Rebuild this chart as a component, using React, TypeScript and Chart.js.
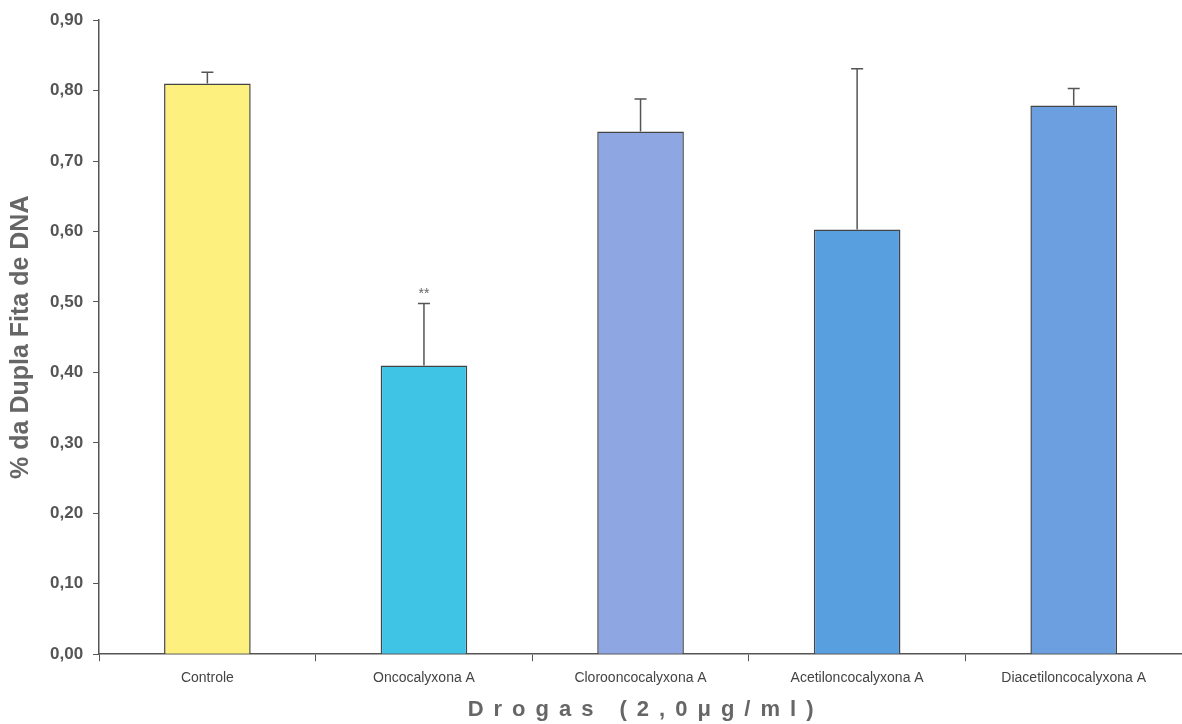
import React, { useEffect, useRef } from "react";
import { Chart, registerables } from "chart.js";

Chart.register(...registerables);

const categories = [
  "Controle",
  "Oncocalyxona A",
  "Clorooncocalyxona A",
  "Acetiloncocalyxona A",
  "Diacetiloncocalyxona A",
];
const means = [0.81, 0.41, 0.742, 0.603, 0.779];
const errors = [0.016, 0.088, 0.046, 0.228, 0.024];
const markers = ["", "**", "", "", ""];
const barColors = ["#FDF07E", "#3FC4E6", "#8EA7E2", "#589FDF", "#6C9FE0"];
const yTicks = [0, 0.1, 0.2, 0.3, 0.4, 0.5, 0.6, 0.7, 0.8, 0.9];
const xTitle = "Drogas (2,0μg/ml)";
const yTitle = "% da Dupla Fita de DNA";

const FONT = "'Liberation Sans', Arial, sans-serif";

const errorBarPlugin = {
  id: "errorBars",
  afterDatasetsDraw(chart: any) {
    const { ctx } = chart;
    const meta = chart.getDatasetMeta(0);
    const y = chart.scales.y;
    ctx.save();
    meta.data.forEach((bar: any, i: number) => {
      const x = bar.x;
      const top = y.getPixelForValue(means[i] + errors[i]);
      const base = y.getPixelForValue(means[i]);
      ctx.strokeStyle = "#555555";
      ctx.lineWidth = 1.5;
      ctx.beginPath();
      ctx.moveTo(x, base);
      ctx.lineTo(x, top);
      ctx.moveTo(x - 6, top);
      ctx.lineTo(x + 6, top);
      ctx.stroke();
      if (markers[i]) {
        ctx.fillStyle = "#666666";
        ctx.font = `14px ${FONT}`;
        ctx.textAlign = "center";
        ctx.textBaseline = "bottom";
        ctx.fillText(markers[i], x, top - 2);
      }
    });
    ctx.restore();
  },
};

const xTitlePlugin = {
  id: "xTitle",
  afterDraw(chart: any) {
    const { ctx, chartArea } = chart;
    const spacing = 10;
    ctx.save();
    ctx.font = `bold 22px ${FONT}`;
    ctx.fillStyle = "#666666";
    (ctx as any).letterSpacing = `${spacing}px`;
    ctx.textAlign = "left";
    ctx.textBaseline = "middle";
    const w = ctx.measureText(xTitle).width - spacing;
    const cx = (chartArea.left + chartArea.right) / 2;
    ctx.fillText(xTitle, cx - w / 2, 710);
    ctx.restore();
  },
};

export default function App() {
  const ref = useRef<HTMLCanvasElement>(null);
  useEffect(() => {
    document.body.style.margin = "0";
    const chart = new Chart(ref.current!, {
      type: "bar",
      data: {
        labels: categories,
        datasets: [
          {
            data: means,
            backgroundColor: barColors,
            borderColor: "#444444",
            borderWidth: 1.5,
            barPercentage: 0.4,
            categoryPercentage: 1,
          },
        ],
      },
      options: {
        animation: false,
        responsive: false,
        layout: { padding: { top: 15, right: 0, left: 6, bottom: 28 } },
        plugins: { legend: { display: false }, tooltip: { enabled: false } },
        scales: {
          x: {
            grid: {
              drawOnChartArea: false,
              drawTicks: true,
              tickLength: 7,
              color: "#555555",
              offset: true,
            },
            border: { color: "#555555", width: 1.5 },
            ticks: {
              color: "#444444",
              font: { family: FONT, size: 14 },
              padding: 9,
              maxRotation: 0,
            },
          },
          y: {
            min: 0,
            max: 0.9,
            afterBuildTicks: (axis: any) => {
              axis.ticks = yTicks.map((v) => ({ value: v }));
            },
            grid: {
              drawOnChartArea: false,
              tickLength: 6,
              color: "#555555",
            },
            border: { color: "#555555", width: 1.5 },
            ticks: {
              color: "#555555",
              font: { family: FONT, size: 17, weight: "bold" },
              padding: 10,
              callback: (v: any) => Number(v).toFixed(2).replace(".", ","),
            },
            title: {
              display: true,
              text: yTitle,
              color: "#666666",
              font: { family: FONT, size: 25, weight: "bold" },
              padding: { top: 0, bottom: 4 },
            },
          },
        },
      },
      plugins: [errorBarPlugin, xTitlePlugin],
    });
    return () => chart.destroy();
  }, []);
  return (
    <div style={{ width: 1182, height: 724, background: "#fff" }}>
      <canvas ref={ref} width={1182} height={724} style={{ display: "block" }} />
    </div>
  );
}
